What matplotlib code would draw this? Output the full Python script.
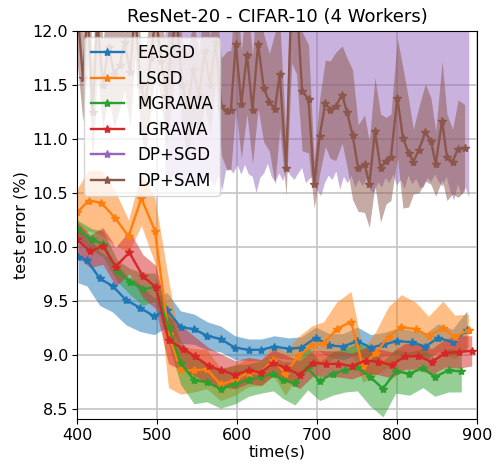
import numpy as np
import matplotlib
matplotlib.use("Agg")
import matplotlib.pyplot as plt

# EASGD
easgd_t = [401, 412, 428, 444, 461, 478, 496, 512, 529, 546, 562, 579, 597, 614, 630,
           646, 664, 680, 698, 715, 732, 750, 767, 783, 800, 818, 835, 851, 869, 887]
easgd = [9.91, 9.88, 9.71, 9.64, 9.51, 9.44, 9.36, 9.42, 9.26, 9.24, 9.18, 9.15, 9.07, 9.05, 9.05,
         9.08, 9.06, 9.07, 9.16, 9.09, 9.08, 9.13, 9.07, 9.10, 9.13, 9.12, 9.08, 9.16, 9.12, 9.23]
easgd_std = [0.24, 0.24, 0.25, 0.24, 0.23, 0.22, 0.17, 0.16, 0.15, 0.14, 0.13, 0.12, 0.11, 0.10, 0.10,
             0.10, 0.10, 0.10, 0.10, 0.11, 0.12, 0.13, 0.12, 0.11, 0.12, 0.11, 0.12, 0.13, 0.12, 0.18]

# LSGD
lsgd_t = [400, 414, 430, 447, 464, 480, 497, 514, 529, 546, 562, 579, 597, 614, 630, 645,
          660, 676, 693, 708, 724, 742, 757, 773, 789, 805, 823, 839, 857, 872, 889]
lsgd = [10.32, 10.43, 10.41, 10.27, 10.10, 10.45, 10.15, 9.20, 8.86, 8.86, 8.87, 8.73, 8.77, 8.84, 8.84, 8.96,
        8.83, 8.99, 9.09, 9.11, 9.24, 9.31, 8.90, 9.02, 9.17, 9.26, 9.24, 9.18, 9.25, 9.17, 9.23]
lsgd_std = [0.22, 0.28, 0.30, 0.25, 0.15, 0.25, 0.30, 0.50, 0.22, 0.20, 0.18, 0.15, 0.14, 0.13, 0.12, 0.15,
            0.20, 0.18, 0.18, 0.20, 0.25, 0.28, 0.15, 0.20, 0.28, 0.30, 0.25, 0.18, 0.25, 0.20, 0.15]

# MGRAWA
mgrawa_t = [400, 418, 432, 450, 466, 482, 497, 514, 529, 546, 562, 579, 597, 614, 630, 645,
            657, 672, 688, 703, 719, 735, 750, 766, 782, 798, 815, 832, 847, 864, 880]
mgrawa = [10.17, 10.07, 10.03, 9.78, 9.68, 9.61, 9.63, 9.26, 8.93, 8.77, 8.75, 8.69, 8.73, 8.77, 8.80, 8.83,
          8.77, 8.74, 8.88, 8.76, 8.83, 8.86, 8.89, 8.80, 8.69, 8.85, 8.83, 8.88, 8.80, 8.86, 8.85]
mgrawa_std = [0.08, 0.10, 0.12, 0.10, 0.12, 0.15, 0.13, 0.15, 0.20, 0.22, 0.18, 0.18, 0.18, 0.15, 0.15, 0.16,
              0.17, 0.20, 0.20, 0.18, 0.20, 0.20, 0.22, 0.27, 0.26, 0.20, 0.20, 0.18, 0.18, 0.20, 0.19]

# LGRAWA
lgrawa_t = [400, 416, 432, 448, 465, 482, 498, 514, 532, 547, 564, 580, 597, 614, 630, 645,
            661, 678, 695, 711, 726, 743, 761, 776, 793, 810, 826, 843, 860, 877, 893]
lgrawa = [10.07, 9.96, 10.01, 9.82, 9.95, 9.73, 9.63, 9.14, 9.06, 8.99, 8.90, 8.86, 8.82, 8.86, 8.84, 8.93,
          8.88, 8.82, 8.93, 8.92, 8.92, 8.90, 8.95, 8.94, 8.91, 8.99, 8.99, 8.94, 9.02, 9.03, 9.04]
lgrawa_std = [0.16, 0.15, 0.17, 0.18, 0.20, 0.20, 0.20, 0.22, 0.20, 0.18, 0.17, 0.15, 0.13, 0.12, 0.12, 0.12,
              0.12, 0.13, 0.12, 0.12, 0.12, 0.12, 0.12, 0.12, 0.12, 0.12, 0.12, 0.12, 0.13, 0.15, 0.14]

# DP+SGD (mean lies above the plotted range)
dp_sgd = [13.1, 13.3, 12.9, 13.2, 13.0, 13.4, 13.1, 12.8, 13.2, 13.0, 13.3, 12.9, 13.1, 13.2, 12.8, 13.0,
          13.3, 13.1, 12.9, 13.2, 13.0, 13.4, 13.1, 12.8, 13.0, 13.2, 13.1, 12.9, 13.3, 13.0, 13.2, 12.9,
          13.1, 13.3, 13.0, 12.8, 13.2, 13.1, 12.9, 13.3, 13.0, 13.2, 13.1, 12.8, 13.0, 13.3, 13.1, 12.9,
          13.2, 13.0, 13.1, 13.3, 12.9, 13.2, 13.0, 13.1, 12.8, 13.2, 13.0, 13.3, 13.1, 12.9, 13.2, 13.0,
          13.1, 13.3, 12.9, 13.2, 13.0, 13.1, 12.8, 13.2, 13.0, 13.3, 13.1, 12.9, 13.2, 13.0, 13.1, 13.3, 13.0]
dp_sgd_std = [2.48, 2.72, 2.24, 2.65, 2.37, 2.83, 2.42, 2.20, 2.66, 2.35, 2.72, 2.20, 2.49, 2.64, 2.14, 2.48,
              2.59, 2.38, 2.22, 2.44, 2.33, 2.64, 2.43, 2.15, 2.50, 2.56, 2.42, 2.13, 2.65, 2.40, 2.52, 2.29,
              2.39, 2.64, 2.38, 2.12, 2.47, 2.51, 2.27, 2.64, 2.47, 2.73, 2.51, 2.14, 2.38, 2.60, 2.57, 2.25,
              2.61, 2.34, 2.55, 2.68, 2.34, 2.56, 2.48, 2.60, 2.20, 2.65, 2.36, 2.71, 2.43, 2.33, 2.58, 2.46,
              2.44, 2.72, 2.27, 2.65, 2.45, 2.46, 2.20, 2.53, 2.40, 2.74, 2.45, 2.38, 2.77, 2.42, 2.62, 2.75, 2.54]
dp_sgd_t = np.linspace(510, 890, len(dp_sgd))

# DP+SAM
dp_sam_t = [400, 407, 413, 419, 425, 432, 439, 446, 453, 459, 466, 472, 479, 485, 492, 498,
            505, 511, 518, 524, 531, 538, 545, 552, 559, 566, 573, 580, 587, 592, 598, 605,
            612, 619, 626, 633, 640, 647, 653, 661, 668, 674, 681, 689, 696, 703, 710, 716,
            723, 731, 737, 744, 751, 759, 765, 772, 779, 786, 792, 800, 807, 814, 820, 827,
            835, 842, 848, 856, 862, 869, 876, 884]
dp_sam = [12.20, 11.56, 12.20, 11.25, 12.10, 11.50, 11.85, 11.60, 11.68, 11.90, 11.62, 12.20, 11.50, 11.33, 11.75, 12.15,
          11.72, 11.40, 11.85, 12.15, 11.50, 11.30, 11.65, 11.40, 11.81, 11.50, 11.90, 11.30, 11.26, 11.27, 11.88, 11.32,
          11.78, 11.27, 11.88, 11.47, 11.34, 11.28, 11.60, 10.73, 12.40, 12.30, 11.44, 11.37, 10.58, 11.03, 11.33, 11.27,
          11.30, 11.41, 11.25, 11.04, 10.73, 10.77, 10.58, 11.07, 10.73, 10.80, 10.83, 11.38, 11.01, 10.87, 10.79, 10.90,
          11.06, 10.98, 10.77, 11.17, 10.83, 10.79, 10.91, 10.92]
dp_sam_std = [0.50, 0.40, 0.50, 0.45, 0.50, 0.40, 0.45, 0.50, 0.40, 0.45, 0.50, 0.45, 0.40, 0.50, 0.45, 0.50,
              0.40, 0.45, 0.50, 0.45, 0.40, 0.50, 0.45, 0.40, 0.50, 0.45, 0.40, 0.45, 0.55, 0.55, 0.60, 0.50,
              0.55, 0.50, 0.60, 0.50, 0.45, 0.70, 0.50, 0.25, 0.70, 0.70, 0.55, 0.50, 0.22, 0.35, 0.40, 0.45,
              0.50, 0.45, 0.50, 0.60, 0.40, 0.45, 0.40, 0.50, 0.50, 0.40, 0.40, 0.55, 0.65, 0.50, 0.30, 0.40,
              0.45, 0.40, 0.30, 0.55, 0.40, 0.30, 0.45, 0.40]

series = [
    ("EASGD", easgd_t, easgd, easgd_std, "#1f77b4"),
    ("LSGD", lsgd_t, lsgd, lsgd_std, "#ff7f0e"),
    ("MGRAWA", mgrawa_t, mgrawa, mgrawa_std, "#2ca02c"),
    ("LGRAWA", lgrawa_t, lgrawa, lgrawa_std, "#d62728"),
    ("DP+SGD", dp_sgd_t, dp_sgd, dp_sgd_std, "#9467bd"),
    ("DP+SAM", dp_sam_t, dp_sam, dp_sam_std, "#8c564b"),
]

fig = plt.figure(figsize=(4.97, 4.65), dpi=100)
ax = fig.add_axes([0.1556, 0.0989, 0.8048, 0.835])

for name, t, m, s, c in series:
    t = np.asarray(t, dtype=float)
    m = np.asarray(m)
    s = np.asarray(s)
    ax.plot(t, m, color=c, marker="*", markersize=6, linewidth=1.7, label=name)
    ax.fill_between(t, m - s, m + s, color=c, alpha=0.5, linewidth=0)

ax.set_xlim(400, 900)
ax.set_ylim(8.41, 12.0)
ax.set_xticks([400, 500, 600, 700, 800, 900])
ax.set_yticks([8.5, 9.0, 9.5, 10.0, 10.5, 11.0, 11.5, 12.0])
ax.grid(True, color="#c4c4c4", linewidth=1.2)
ax.set_axisbelow(True)
ax.tick_params(labelsize=11.5, pad=3)
ax.set_xlabel("time(s)", fontsize=11.5, labelpad=1)
ax.set_ylabel("test error (%)", fontsize=11.5, labelpad=3)
ax.set_title("ResNet-20 - CIFAR-10 (4 Workers)", fontsize=13)
ax.legend(loc="upper left", fontsize=12, labelspacing=0.45, borderaxespad=0.4)

fig.savefig("out.png", dpi=100)
